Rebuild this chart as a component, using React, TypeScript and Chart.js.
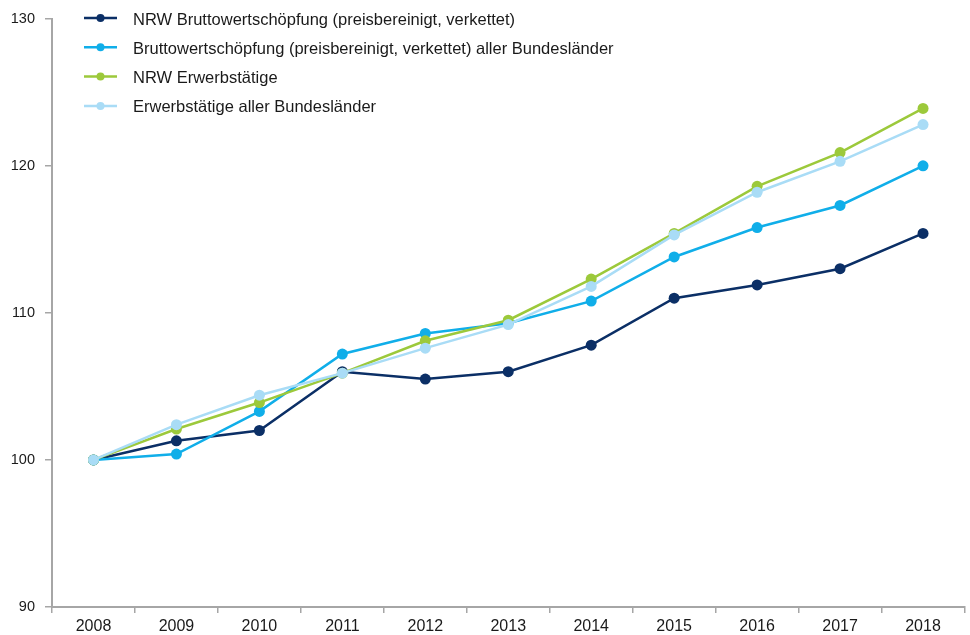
import React, { useEffect, useRef } from "react";
import { Chart, registerables } from "chart.js";

Chart.register(...registerables);

const years = ["2008", "2009", "2010", "2011", "2012", "2013", "2014", "2015", "2016", "2017", "2018"];
const nrwBws = [100, 101.3, 102.0, 106.0, 105.5, 106.0, 107.8, 111.0, 111.9, 113.0, 115.4];
const alleBws = [100, 100.4, 103.3, 107.2, 108.6, 109.3, 110.8, 113.8, 115.8, 117.3, 120.0];
const nrwErw = [100, 102.1, 103.9, 105.9, 108.1, 109.5, 112.3, 115.4, 118.6, 120.9, 123.9];
const alleErw = [100, 102.4, 104.4, 105.9, 107.6, 109.2, 111.8, 115.3, 118.2, 120.3, 122.8];
const yTicks = [90, 100, 110, 120, 130];

const seriesLabels = [
  "NRW Bruttowertschöpfung (preisbereinigt, verkettet)",
  "Bruttowertschöpfung (preisbereinigt, verkettet) aller Bundesländer",
  "NRW Erwerbstätige",
  "Erwerbstätige aller Bundesländer",
];
const seriesColors = ["#0b2f66", "#10aee9", "#9cc93b", "#a9dcf6"];

const FONT = "'Liberation Sans', Arial, sans-serif";
const AXIS = "#a6a6a6";

const legendPlugin = {
  id: "inlineLegend",
  afterDraw(chart: any) {
    const ctx = chart.ctx;
    ctx.save();
    ctx.font = `16.5px ${FONT}`;
    ctx.textBaseline = "middle";
    ctx.textAlign = "left";
    chart.data.datasets.forEach((ds: any, i: number) => {
      const y = 18 + i * 29.3;
      ctx.strokeStyle = ds.borderColor;
      ctx.lineWidth = 2.5;
      ctx.beginPath();
      ctx.moveTo(84, y);
      ctx.lineTo(117, y);
      ctx.stroke();
      ctx.fillStyle = ds.borderColor;
      ctx.beginPath();
      ctx.arc(100.5, y, 4, 0, Math.PI * 2);
      ctx.fill();
      ctx.fillStyle = "#1a1a1a";
      ctx.fillText(ds.label, 133, y + 2);
    });
    ctx.restore();
  },
};

export default function App() {
  const ref = useRef<HTMLCanvasElement>(null);
  useEffect(() => {
    document.body.style.margin = "0";
    const values = [nrwBws, alleBws, nrwErw, alleErw];
    const chart = new Chart(ref.current!, {
      type: "line",
      data: {
        labels: years,
        datasets: values.map((v, i) => ({
          label: seriesLabels[i],
          data: v,
          borderColor: seriesColors[i],
          backgroundColor: seriesColors[i],
          pointBackgroundColor: seriesColors[i],
          pointBorderWidth: 0,
          pointRadius: 5.5,
          borderWidth: 2.5,
          tension: 0,
          order: 4 - i,
        })),
      },
      options: {
        animation: false,
        responsive: false,
        layout: { padding: { top: 14, right: 1, left: 0, bottom: 0 } },
        plugins: { legend: { display: false }, tooltip: { enabled: false } },
        scales: {
          x: {
            offset: true,
            grid: { offset: true, drawOnChartArea: false, color: AXIS, tickLength: 6, lineWidth: 1.5 },
            border: { color: AXIS, width: 2 },
            ticks: { color: "#1a1a1a", font: { family: FONT, size: 16 }, padding: 4, maxRotation: 0 },
            afterFit: (s: any) => { s.height = 28; },
          },
          y: {
            min: 90,
            max: 130,
            afterBuildTicks: (s: any) => { s.ticks = yTicks.map((v) => ({ value: v })); },
            grid: { drawOnChartArea: false, color: AXIS, tickLength: 7, lineWidth: 1.5 },
            border: { color: AXIS, width: 2 },
            ticks: { color: "#1a1a1a", font: { family: FONT, size: 14.5 }, padding: 10 },
            afterFit: (s: any) => { s.width = 52; },
          },
        },
      },
      plugins: [legendPlugin],
    });
    return () => chart.destroy();
  }, []);
  return (
    <div style={{ width: 970, height: 635 }}>
      <canvas ref={ref} width={970} height={635} />
    </div>
  );
}
